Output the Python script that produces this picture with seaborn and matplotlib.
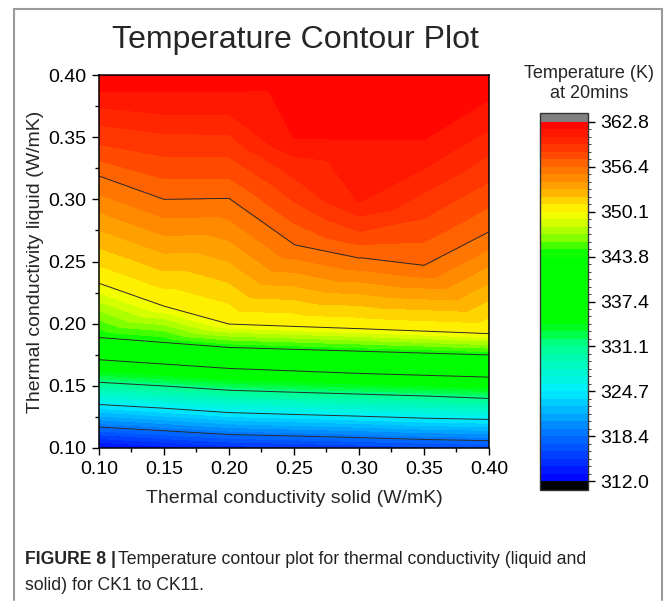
import numpy as np
import matplotlib
matplotlib.use("Agg")
import matplotlib.pyplot as plt
import matplotlib.tri as mtri
from matplotlib.colors import LinearSegmentedColormap, ListedColormap, BoundaryNorm
from matplotlib.lines import Line2D
import seaborn as sns

# Thermal conductivity of the solid (W/mK), one profile per value
k_solid = [0.10, 0.15, 0.20, 0.25, 0.30, 0.35, 0.40]

# Liquid conductivity (W/mK) and temperature at 20 mins (K) along each profile
liq_010 = [0.100, 0.117, 0.135, 0.153, 0.171, 0.189, 0.2325, 0.318, 0.3314, 0.3447, 0.3595, 0.3743, 0.3863, 0.400]
tmp_010 = [312.4, 318.4, 324.7, 331.1, 337.4, 343.8, 350.1, 356.4, 357.5, 358.6, 359.6, 360.7, 361.7, 362.5]

liq_015 = [0.100, 0.114, 0.132, 0.150, 0.1675, 0.185, 0.2141, 0.2992, 0.3166, 0.3354, 0.3528, 0.3689, 0.386, 0.400]
tmp_015 = [313.5, 318.4, 324.7, 331.1, 337.4, 343.8, 350.1, 356.4, 357.5, 358.6, 359.6, 360.7, 361.7, 362.5]

liq_020 = [0.100, 0.111, 0.1285, 0.1466, 0.164, 0.181, 0.1997, 0.300, 0.317, 0.335, 0.352, 0.369, 0.386, 0.400]
tmp_020 = [314.4, 318.4, 324.7, 331.1, 337.4, 343.8, 350.1, 356.4, 357.5, 358.6, 359.6, 360.7, 361.7, 362.5]

liq_025 = [0.100, 0.1098, 0.127, 0.145, 0.162, 0.1795, 0.1978, 0.263, 0.281, 0.299, 0.317, 0.335, 0.346, 0.400]
tmp_025 = [314.8, 318.4, 324.7, 331.1, 337.4, 343.8, 350.1, 356.4, 357.5, 358.6, 359.6, 360.7, 361.7, 362.4]

liq_030 = [0.100, 0.1085, 0.1256, 0.1435, 0.160, 0.178, 0.196, 0.2523, 0.2637, 0.275, 0.2866, 0.298, 0.345, 0.400]
tmp_030 = [315.3, 318.4, 324.7, 331.1, 337.4, 343.8, 350.1, 356.4, 357.5, 358.6, 359.6, 360.7, 361.7, 362.4]

liq_035 = [0.100, 0.107, 0.124, 0.142, 0.1585, 0.1765, 0.194, 0.246, 0.2658, 0.2856, 0.3054, 0.3252, 0.345, 0.400]
tmp_035 = [315.8, 318.4, 324.7, 331.1, 337.4, 343.8, 350.1, 356.4, 357.5, 358.6, 359.6, 360.7, 361.7, 362.4]

liq_040 = [0.100, 0.106, 0.123, 0.140, 0.157, 0.175, 0.192, 0.273, 0.2938, 0.3146, 0.3354, 0.3562, 0.377, 0.400]
tmp_040 = [316.2, 318.4, 324.7, 331.1, 337.4, 343.8, 350.1, 356.4, 357.5, 358.6, 359.6, 360.7, 361.7, 362.3]

# Colour scale
scale_min, scale_max = 312.0, 362.8
major_ticks = [312.0, 318.35, 324.7, 331.05, 337.4, 343.75, 350.1, 356.45, 362.8]
major_labels = ["312.0", "318.4", "324.7", "331.1", "337.4", "343.8", "350.1", "356.4", "362.8"]
bands_per_major = 6

palette_values = [312.0, 318.4, 324.7, 331.1, 334.5, 344.0, 347.0, 350.1, 353.0, 356.4, 359.5, 362.8]
palette_colors = ["#0000FF", "#0070FF", "#00F0FF", "#00FF90", "#00FF00", "#00FF00",
                  "#A0FF00", "#FFFF00", "#FFB000", "#FF7000", "#FF3000", "#FF0000"]

sns.set_style("ticks")
plt.rcParams["font.family"] = ["Liberation Sans", "DejaVu Sans"]

W, H = 665, 602
fig = plt.figure(figsize=(W / 100, H / 100), dpi=100)
fig.patch.set_facecolor("white")


def fx(px):
    return px / W


def fy(py):
    return 1 - py / H


ax = fig.add_axes([fx(99), fy(448), fx(489) - fx(99), fy(75) - fy(448)])

profiles = [(liq_010, tmp_010), (liq_015, tmp_015), (liq_020, tmp_020), (liq_025, tmp_025),
            (liq_030, tmp_030), (liq_035, tmp_035), (liq_040, tmp_040)]
px_, py_, pz_ = [], [], []
for ks, (liq, tmp) in zip(k_solid, profiles):
    px_ += [ks] * len(liq)
    py_ += liq
    pz_ += tmp
tri = mtri.Triangulation(np.array(px_), np.array(py_))
z = np.array(pz_)

levels = np.linspace(scale_min, scale_max, (len(major_ticks) - 1) * bands_per_major + 1)
pos = [(v - scale_min) / (scale_max - scale_min) for v in palette_values]
base = LinearSegmentedColormap.from_list("origin_rainbow", list(zip(pos, palette_colors)))
mids = (levels[:-1] + levels[1:]) / 2
cmap = ListedColormap([base((m - scale_min) / (scale_max - scale_min)) for m in mids])
cmap.set_over("#808080")
cmap.set_under("#000000")
norm = BoundaryNorm(levels, cmap.N)

cf = ax.tricontourf(tri, z, levels=levels, cmap=cmap, norm=norm, extend="both")
cf.set_edgecolor("face")
cf.set_linewidth(0.4)
ax.tricontour(tri, z, levels=major_ticks[1:-1], colors="#2a2a2a", linewidths=0.7)

ax.set_xlim(0.10, 0.40)
ax.set_ylim(0.10, 0.40)
ax.set_xticks([0.10, 0.15, 0.20, 0.25, 0.30, 0.35, 0.40])
ax.set_yticks([0.10, 0.15, 0.20, 0.25, 0.30, 0.35, 0.40])
ax.set_xticks(np.arange(0.125, 0.40, 0.05), minor=True)
ax.set_yticks(np.arange(0.125, 0.40, 0.05), minor=True)
ax.xaxis.set_major_formatter(matplotlib.ticker.FormatStrFormatter("%.2f"))
ax.yaxis.set_major_formatter(matplotlib.ticker.FormatStrFormatter("%.2f"))
ax.tick_params(which="major", direction="out", length=5, width=1.0, labelsize=14,
               colors="black", pad=4)
ax.tick_params(which="minor", direction="out", length=3, width=1.0, colors="black")
for s in ax.spines.values():
    s.set_color("black")
    s.set_linewidth(1.1)

ax.set_xlabel("Thermal conductivity solid (W/mK)", fontsize=14, labelpad=9)
ax.set_ylabel("Thermal conductivity liquid (W/mK)", fontsize=14, labelpad=3)

fig.text(fx(295), fy(40), "Temperature Contour Plot", ha="center", va="center", fontsize=23)

# Colour bar with over/under caps
cax = fig.add_axes([fx(540), fy(490), fx(588) - fx(540), fy(113) - fy(490)])
cb = fig.colorbar(cf, cax=cax, extend="both", extendrect=True, extendfrac=0.025,
                  ticks=major_ticks, drawedges=False)
cb.set_ticklabels(major_labels)
cb.ax.tick_params(direction="out", length=5, width=1.0, labelsize=14, colors="black", pad=4)
cb.outline.set_linewidth(1.0)
cb.outline.set_edgecolor("#333333")
fig.text(fx(589), fy(74), "Temperature (K)", ha="center", va="center", fontsize=13)
fig.text(fx(589), fy(93), "at 20mins", ha="center", va="center", fontsize=13)

# Caption
cap = dict(ha="left", va="center", fontsize=12.7)
t1 = fig.text(fx(25), fy(560), "FIGURE 8 |", fontweight="bold", **cap)
fig.canvas.draw()
bb = t1.get_window_extent(renderer=fig.canvas.get_renderer())
fig.text(fx(bb.x1 + 2), fy(560),
         "Temperature contour plot for thermal conductivity (liquid and",
         color="#222222", **cap)
fig.text(fx(25), fy(585), "solid) for CK1 to CK11.", color="#222222", **cap)

# Panel frame
frame = dict(color="#9a9a9a", linewidth=1.5, transform=fig.transFigure)
fig.add_artist(Line2D([fx(13.5), fx(13.5)], [fy(9), fy(600)], **frame))
fig.add_artist(Line2D([fx(13.5), fx(662)], [fy(9), fy(9)], **frame))
fig.add_artist(Line2D([fx(662), fx(662)], [fy(9), fy(600)], **frame))

fig.savefig("out.png", dpi=100)
